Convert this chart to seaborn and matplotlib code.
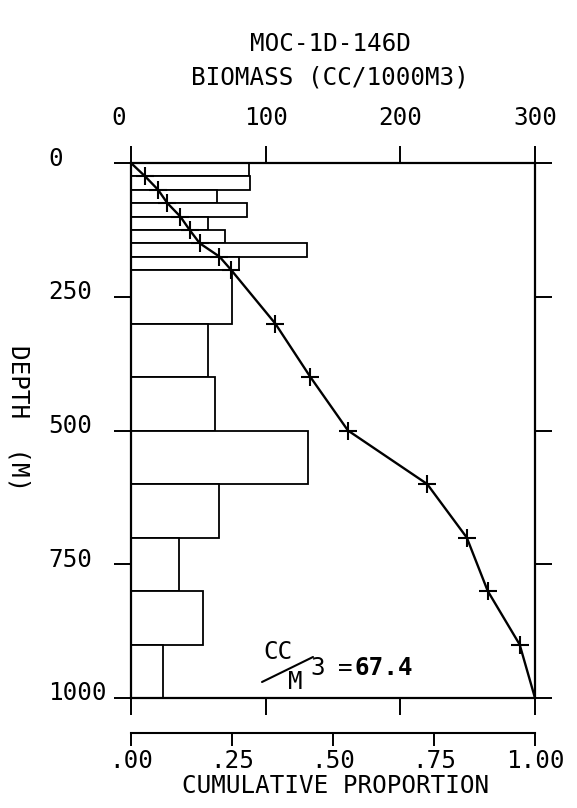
import matplotlib
matplotlib.use("Agg")
import matplotlib.pyplot as plt
import matplotlib.transforms as mtransforms
from matplotlib.lines import Line2D
import pandas as pd
import seaborn as sns

# ---- data ----
depth_edges = [0, 25, 50, 75, 100, 125, 150, 175, 200, 300, 400, 500, 600, 700, 800, 900, 1000]
biomass = [87.6, 88.4, 64.2, 86.4, 57.3, 69.6, 130.4, 80.2,
           75.3, 57.3, 62.5, 131.6, 65.7, 35.8, 53.8, 23.7]
cum_prop = [0.0, 0.035, 0.067, 0.090, 0.122, 0.145, 0.170, 0.219, 0.248,
            0.357, 0.444, 0.537, 0.733, 0.831, 0.883, 0.962, 1.0]
biomass_ticks = [0, 100, 200, 300]
depth_ticks = [0, 250, 500, 750, 1000]
prop_ticks = [0.0, 0.25, 0.5, 0.75, 1.0]
prop_labels = [".00", ".25", ".50", ".75", "1.00"]
title_text = "MOC-1D-146D"
top_label = "BIOMASS (CC/1000M3)"
bottom_label = "CUMULATIVE PROPORTION"
y_label = "DEPTH  (M)"
total_value = "67.4"

sns.set_theme(style="ticks")
plt.rcParams['font.family'] = ['DejaVu Sans Mono', 'DejaVu Sans']
plt.rcParams['text.color'] = 'black'
plt.rcParams['axes.labelcolor'] = 'black'
plt.rcParams['xtick.color'] = 'black'
plt.rcParams['ytick.color'] = 'black'
FS = 17.5

W, H = 577, 808
fig = plt.figure(figsize=(W / 100, H / 100), dpi=100)
fig.patch.set_facecolor("white")
ax = fig.add_axes([131 / W, 1 - 698 / H, 404 / W, 535 / H])

mids = [(a + b) / 2 for a, b in zip(depth_edges[:-1], depth_edges[1:])]
df = pd.DataFrame({"depth": mids, "biomass": biomass})
sns.histplot(data=df, y="depth", weights="biomass", bins=depth_edges, ax=ax,
             color="white", edgecolor="black", linewidth=1.3, alpha=1)

ax2 = ax.twiny()
sns.lineplot(x=cum_prop, y=depth_edges, ax=ax2, sort=False, estimator=None,
             color="black", linewidth=1.7, marker="+", markersize=13,
             markeredgewidth=1.5, markeredgecolor="black",
             markevery=list(range(1, len(cum_prop) - 1)))

ax.set_xlim(0, 300)
ax.set_ylim(1000, 0)
ax2.set_xlim(0, 1)
ax2.set_ylim(1000, 0)

# main axes ticks
ax.set_xticks(biomass_ticks)
ax.set_xticklabels([str(t) for t in biomass_ticks])
ax.set_yticks(depth_ticks)
ax.set_yticklabels([str(t) for t in depth_ticks])
ax.tick_params(axis="x", top=True, bottom=True, labeltop=True, labelbottom=False,
               direction="out", length=12, width=1.4, pad=12, labelsize=FS,
               colors="black")
ax.tick_params(axis="y", left=True, right=True, labelleft=True, labelright=False,
               direction="out", length=12, width=1.4, pad=47.5, labelsize=FS,
               colors="black")
off = mtransforms.ScaledTranslation(0, 7 / 100, fig.dpi_scale_trans)
for lab in ax.get_yticklabels():
    lab.set_ha("left")
    lab.set_transform(lab.get_transform() + off)
xlabs = ax.get_xticklabels(which="major")
ax.xaxis.get_major_ticks()[0].label2.set_transform(
    ax.xaxis.get_major_ticks()[0].label2.get_transform()
    + mtransforms.ScaledTranslation(-12 / 100, 0, fig.dpi_scale_trans))
for s in ax.spines.values():
    s.set_linewidth(1.6)
    s.set_color("black")

ax.set_xlabel(top_label, fontsize=FS)
ax.xaxis.set_label_position("top")
ax.xaxis.set_label_coords((330 - 131) / 404, (698 - 77) / 535)
ax.xaxis.label.set_va("center")
ax.set_ylabel(y_label, fontsize=FS, rotation=-90)
ax.yaxis.set_label_coords((19 - 131) / 404, (698 - 418) / 535)
ax.yaxis.label.set_va("center")
ax.yaxis.label.set_ha("center")

# cumulative axis
for s in ["top", "left", "right"]:
    ax2.spines[s].set_visible(False)
ax2.spines["bottom"].set_position(("outward", 25))
ax2.spines["bottom"].set_linewidth(1.5)
ax2.spines["bottom"].set_color("black")
ax2.xaxis.set_ticks_position("bottom")
ax2.xaxis.set_label_position("bottom")
ax2.set_xticks(prop_ticks)
ax2.set_xticklabels(prop_labels)
ax2.tick_params(axis="x", direction="out", length=9, width=1.4, pad=3,
                labelsize=FS, colors="black")
ax2.set_xlabel(bottom_label, fontsize=FS)
ax2.xaxis.set_label_coords((336 - 131) / 404, (698 - 786) / 535)
ax2.xaxis.label.set_va("center")

# title
fig.text(330 / W, 1 - 44 / H, title_text, ha="center", va="center", fontsize=FS)

# integrated value annotation
fig.text(278 / W, 1 - 652 / H, "CC", ha="center", va="center", fontsize=FS)
fig.text(295 / W, 1 - 682 / H, "M", ha="center", va="center", fontsize=FS)
fig.text(318 / W, 1 - 668 / H, "3", ha="center", va="center", fontsize=FS)
fig.text(345 / W, 1 - 668 / H, "=", ha="center", va="center", fontsize=FS)
fig.text(355 / W, 1 - 668 / H, total_value, ha="left", va="center", fontsize=FS,
         fontweight="bold")
fig.add_artist(Line2D([262 / W, 313 / W], [1 - 682 / H, 1 - 657 / H],
                      transform=fig.transFigure, color="black", lw=1.5))

fig.savefig("out.png", dpi=100)
